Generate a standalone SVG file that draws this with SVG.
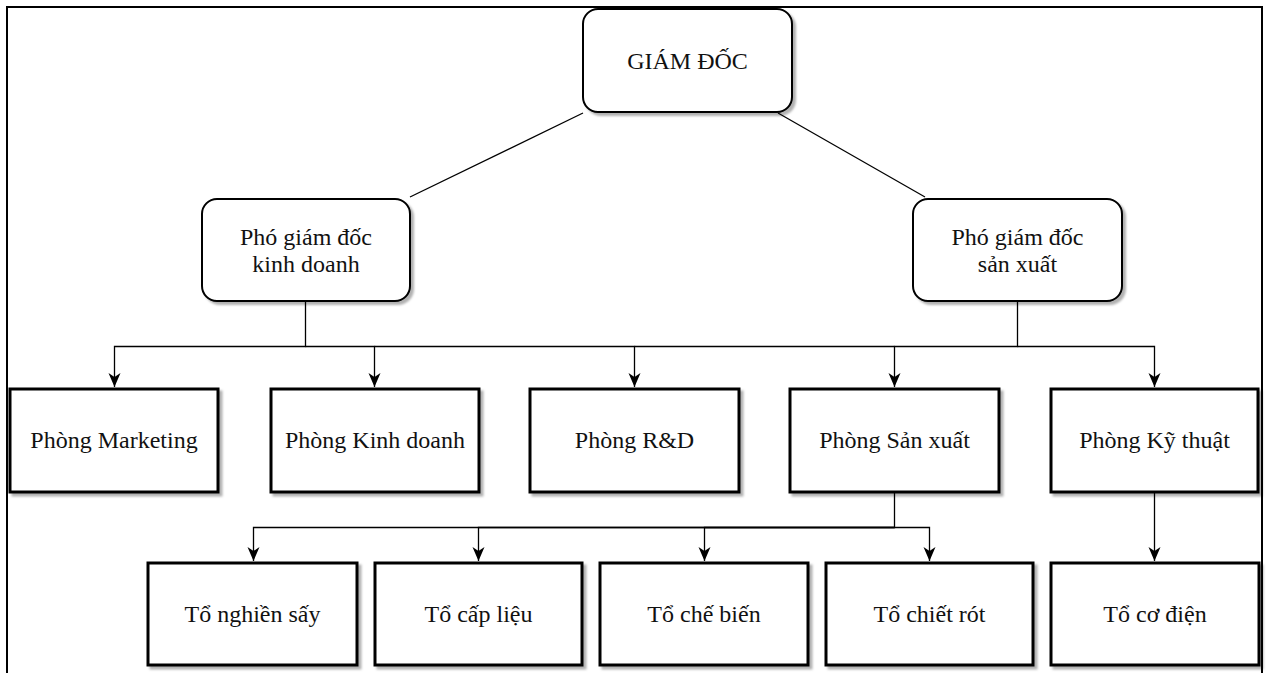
<svg xmlns="http://www.w3.org/2000/svg" width="1269" height="673" viewBox="0 0 1269 673">
<style>
.frame{fill:none;stroke:#000;stroke-width:2}
.rnode{fill:#fff;stroke:#000;stroke-width:2;filter:url(#sh)}
.bnode{fill:#fff;stroke:#000;stroke-width:3;filter:url(#sh)}
.lbl{font-family:"Liberation Serif","Times New Roman",serif;font-size:24px;fill:#111;text-anchor:middle}
.conn{fill:none;stroke:#000;stroke-width:1.3}
</style>
<defs>
<filter id="sh" x="-10%" y="-10%" width="130%" height="130%">
<feDropShadow dx="3" dy="3" stdDeviation="1.2" flood-color="#000" flood-opacity="0.3"/>
</filter>
<marker id="arr" markerUnits="userSpaceOnUse" markerWidth="14" markerHeight="14" refX="14" refY="7" orient="auto">
<path d="M0,1 L14,7 L0,13 L4,7 Z" fill="#000"/>
</marker>
</defs>
<rect width="1269" height="673" fill="#fff"/>
<path class="frame" d="M7,673 V7 H1262 V673"/>

<g id="connectors">
<path class="conn" d="M583,113 L410,197"/>
<path class="conn" d="M778,113 L925,197"/>
<path class="conn" d="M305.5,301 V346.5 H114.5 V387" marker-end="url(#arr)"/>
<path class="conn" d="M305.5,346.5 H374.5 V387" marker-end="url(#arr)"/>
<path class="conn" d="M374.5,346.5 H634.5 V387" marker-end="url(#arr)"/>
<path class="conn" d="M1017.5,301 V346.5 H894.5 V387" marker-end="url(#arr)"/>
<path class="conn" d="M894.5,346.5 H634.5"/>
<path class="conn" d="M1017.5,346.5 H1154.5 V387" marker-end="url(#arr)"/>
<path class="conn" d="M894.5,492 V527.5 H253.5 V561" marker-end="url(#arr)"/>
<path class="conn" d="M894.5,527.5 H478.5 V561" marker-end="url(#arr)"/>
<path class="conn" d="M894.5,527.5 H704.5 V561" marker-end="url(#arr)"/>
<path class="conn" d="M894.5,527.5 H929.5 V561" marker-end="url(#arr)"/>
<path class="conn" d="M1154.5,492 V561" marker-end="url(#arr)"/>
</g>

<g id="giam-doc">
<rect class="rnode" x="583" y="9" width="209" height="103" rx="15"/>
<text class="lbl" x="687.5" y="68.5">GIÁM ĐỐC</text>
</g>
<g id="pgd-kinh-doanh">
<rect class="rnode" x="202" y="199" width="208" height="102" rx="15"/>
<text class="lbl" x="306" y="245">Phó giám đốc</text>
<text class="lbl" x="306" y="272">kinh doanh</text>
</g>
<g id="pgd-san-xuat">
<rect class="rnode" x="913" y="199" width="209" height="102" rx="15"/>
<text class="lbl" x="1017.5" y="245">Phó giám đốc</text>
<text class="lbl" x="1017.5" y="272">sản xuất</text>
</g>

<g id="phong-marketing">
<rect class="bnode" x="10" y="389" width="208" height="103"/>
<text class="lbl" x="114" y="448">Phòng Marketing</text>
</g>
<g id="phong-kinh-doanh">
<rect class="bnode" x="271" y="389" width="208" height="103"/>
<text class="lbl" x="375" y="448">Phòng Kinh doanh</text>
</g>
<g id="phong-rd">
<rect class="bnode" x="530" y="389" width="209" height="103"/>
<text class="lbl" x="634.5" y="448">Phòng R&amp;D</text>
</g>
<g id="phong-san-xuat">
<rect class="bnode" x="790" y="389" width="209" height="103"/>
<text class="lbl" x="894.5" y="448">Phòng Sản xuất</text>
</g>
<g id="phong-ky-thuat">
<rect class="bnode" x="1051" y="389" width="207" height="103"/>
<text class="lbl" x="1154.5" y="448">Phòng Kỹ thuật</text>
</g>

<g id="to-nghien-say">
<rect class="bnode" x="148" y="563" width="209" height="102"/>
<text class="lbl" x="252.5" y="622">Tổ nghiền sấy</text>
</g>
<g id="to-cap-lieu">
<rect class="bnode" x="375" y="563" width="207" height="102"/>
<text class="lbl" x="478.5" y="622">Tổ cấp liệu</text>
</g>
<g id="to-che-bien">
<rect class="bnode" x="600" y="563" width="208" height="102"/>
<text class="lbl" x="704" y="622">Tổ chế biến</text>
</g>
<g id="to-chiet-rot">
<rect class="bnode" x="826" y="563" width="207" height="102"/>
<text class="lbl" x="929.5" y="622">Tổ chiết rót</text>
</g>
<g id="to-co-dien">
<rect class="bnode" x="1051" y="563" width="208" height="102"/>
<text class="lbl" x="1155" y="622">Tổ cơ điện</text>
</g>
</svg>
